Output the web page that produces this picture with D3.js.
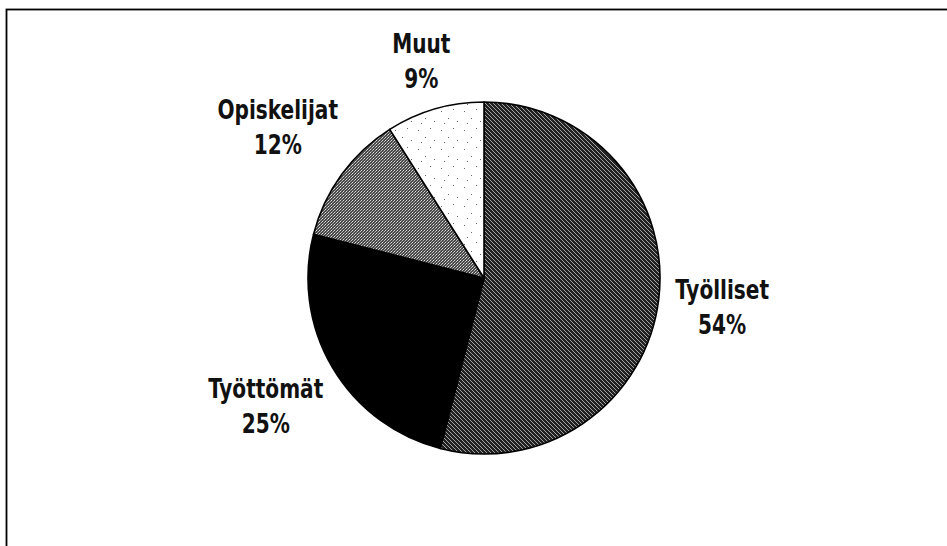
<!DOCTYPE html>
<html>
<head>
<meta charset="utf-8">
<script src="https://cdn.jsdelivr.net/npm/d3@7"></script>
<style>
  html, body { margin: 0; padding: 0; background: #fff; }
  svg { display: block; }
  .label { font-family: "DejaVu Sans Condensed", "DejaVu Sans", sans-serif; font-stretch: condensed; font-size: 26px; font-weight: bold; fill: #111; }
</style>
</head>
<body>
<svg id="pie" width="947" height="546"></svg>
<script>
var categories = ["Työlliset", "Työttömät", "Opiskelijat", "Muut"];
var values = [54, 25, 12, 9];
var percentLabels = ["54%", "25%", "12%", "9%"];
var fills = ["url(#hatch)", "#000", "url(#grey)", "url(#dots)"];

var svg = d3.select("svg#pie"),
    cx = 484, cy = 278, radius = 176,
    labelGap = 14, lineHeight = 35,
    squeeze = 0.86; // the original lettering is narrower than any installed font

// outer frame, only top and left edges fall inside the picture
svg.append("rect")
    .attr("x", 6.5).attr("y", 9.5)
    .attr("width", 1200).attr("height", 1000)
    .attr("fill", "none")
    .attr("stroke", "#000")
    .attr("stroke-width", 1.8);

var defs = svg.append("defs");

// dark diagonal hatch
var hatch = defs.append("pattern")
    .attr("id", "hatch")
    .attr("patternUnits", "userSpaceOnUse")
    .attr("width", 4).attr("height", 4);
hatch.append("rect").attr("width", 4).attr("height", 4).attr("fill", "#222");
hatch.append("path")
    .attr("d", "M-1,-1 L5,5 M-1,3 L1,5 M3,-1 L5,1")
    .attr("stroke", "#b0b0b0").attr("stroke-width", 0.9);

// mid grey screen
var grey = defs.append("pattern")
    .attr("id", "grey")
    .attr("patternUnits", "userSpaceOnUse")
    .attr("width", 3).attr("height", 3);
grey.append("rect").attr("width", 3).attr("height", 3).attr("fill", "#4a4a4a");
grey.append("rect").attr("x", 0).attr("y", 0).attr("width", 1).attr("height", 1).attr("fill", "#ddd");
grey.append("rect").attr("x", 2).attr("y", 1).attr("width", 1).attr("height", 1).attr("fill", "#bbb");
grey.append("rect").attr("x", 1).attr("y", 2).attr("width", 1).attr("height", 1).attr("fill", "#999");

// sparse dots on white
var dots = defs.append("pattern")
    .attr("id", "dots")
    .attr("patternUnits", "userSpaceOnUse")
    .attr("width", 23).attr("height", 19);
dots.append("rect").attr("width", 23).attr("height", 19).attr("fill", "#fff");
dots.append("path")
    .attr("d", "M3,4h1v1h-1z M15,2h1v1h-1z M10,11h1v1h-1z M19,14h1v1h-1z M6,16h1v1h-1z")
    .attr("fill", "#666");

var pie = d3.pie()
    .sort(null)
    .value(function(d) { return d; });

var arcs = pie(values);

var arc = d3.arc()
    .innerRadius(0)
    .outerRadius(radius);

var g = svg.append("g")
    .attr("transform", "translate(" + cx + "," + cy + ")");

g.selectAll("path.slice")
    .data(arcs)
    .enter().append("path")
      .attr("class", "slice")
      .attr("d", arc)
      .attr("fill", function(d, i) { return fills[i]; })
      .attr("stroke", "#000")
      .attr("stroke-width", 1.6)
      .attr("stroke-linejoin", "round");

var labels = g.selectAll("text.label")
    .data(arcs)
    .enter().append("text")
      .attr("class", "label")
      .attr("text-anchor", "middle");

labels.append("tspan")
    .attr("x", 0).attr("y", 0)
    .text(function(d, i) { return categories[i]; });
labels.append("tspan")
    .attr("x", 0).attr("y", lineHeight)
    .text(function(d, i) { return percentLabels[i]; });

// push each label box out along its slice's middle angle until it clears the pie
labels.each(function(d) {
  var box = this.getBBox(),
      a = (d.startAngle + d.endAngle) / 2,
      ux = Math.sin(a), uy = -Math.cos(a),
      hw = box.width * squeeze / 2,
      top = box.y + 6, bottom = lineHeight + 2, // cap top to last baseline
      hh = (bottom - top) / 2,
      ext = Math.abs(ux) * hw + Math.abs(uy) * hh,
      dist = radius + labelGap + ext,
      by = top + hh;
  d3.select(this).attr("transform",
      "translate(" + (ux * dist) + "," + (uy * dist - by) + ") scale(" + squeeze + ",1)");
});
</script>
</body>
</html>
